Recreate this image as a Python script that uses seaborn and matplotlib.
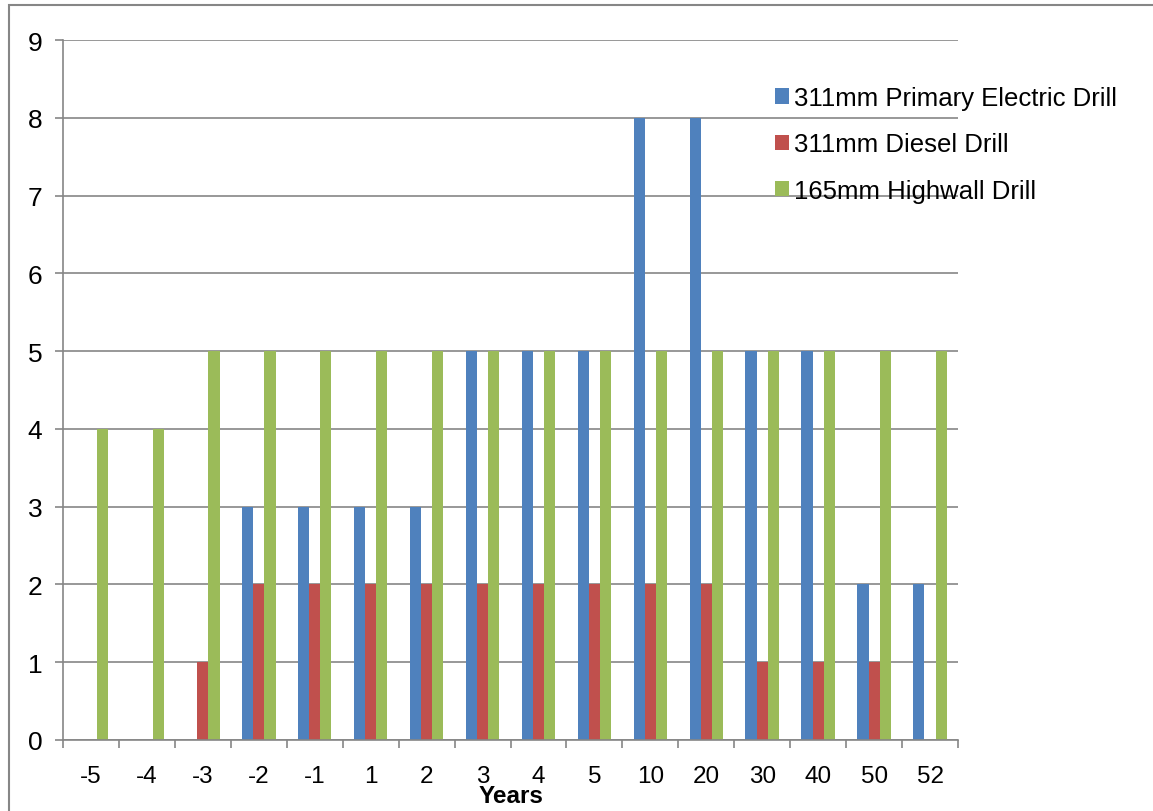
import numpy as np
import pandas as pd
import matplotlib
matplotlib.use('Agg')
import matplotlib.pyplot as plt
import seaborn as sns
from matplotlib.patches import Rectangle

sns.set_style('white')
plt.rcParams['font.family'] = ['Liberation Sans', 'DejaVu Sans']
plt.rcParams['text.color'] = 'black'
plt.rcParams['xtick.labelcolor'] = 'black'
plt.rcParams['ytick.labelcolor'] = 'black'
plt.rcParams['axes.labelcolor'] = 'black'

years = ['-5', '-4', '-3', '-2', '-1', '1', '2', '3', '4', '5', '10', '20', '30', '40', '50', '52']
electric = [0, 0, 0, 3, 3, 3, 3, 5, 5, 5, 8, 8, 5, 5, 2, 2]
diesel = [0, 0, 1, 2, 2, 2, 2, 2, 2, 2, 2, 2, 1, 1, 1, 0]
highwall = [4, 4, 5, 5, 5, 5, 5, 5, 5, 5, 5, 5, 5, 5, 5, 5]
series_names = ['311mm Primary Electric Drill', '311mm Diesel Drill', '165mm Highwall Drill']
colors = ['#4f81bd', '#c0504d', '#9bbb59']

df = pd.DataFrame({'year': years * 3,
                   'value': electric + diesel + highwall,
                   'series': np.repeat(series_names, len(years))})

fig = plt.figure(figsize=(11.53, 8.12), dpi=100)
ax = fig.add_axes([63 / 1153, 1 - 741 / 812, (958 - 63) / 1153, 700 / 812])

sns.barplot(data=df, x='year', y='value', hue='series', order=years,
            hue_order=series_names, palette=colors, width=0.6, gap=0,
            saturation=1, linewidth=0, ax=ax)

grey = '#868686'
ax.set_ylim(0, 9)
ax.set_xlim(-0.5, len(years) - 0.5)
ax.set_yticks(range(10))
ax.yaxis.grid(True, color=grey, linewidth=1.2)
ax.set_axisbelow(True)
for s in ['top', 'right']:
    ax.spines[s].set_visible(False)
for s in ['left', 'bottom']:
    ax.spines[s].set_color(grey)
    ax.spines[s].set_linewidth(1.2)

ax.set_xticks(np.arange(len(years) + 1) - 0.5, minor=True)
ax.tick_params(axis='x', which='minor', length=6, color=grey, width=1.2, direction='out')
ax.tick_params(axis='x', which='major', length=0, labelsize=17.5, pad=18, labelcolor='black')
ax.tick_params(axis='y', length=6, color=grey, width=1.2, labelsize=19, pad=9, labelcolor='black')
ax.tick_params(left=True, bottom=True, which='both')

ax.set_ylabel('')
ax.set_xlabel('Years', fontsize=17.5, fontweight='bold', color='black')
ax.xaxis.set_label_coords((511 - 63) / 895, (741 - 797) / 700)
ax.xaxis.label.set_va('center')

leg = ax.legend(loc='upper left', bbox_to_anchor=(775 / 1153, 1 - 87 / 812),
                bbox_transform=fig.transFigure, frameon=False, fontsize=18.5,
                handlelength=0.55, handleheight=0.55, handletextpad=0.2,
                labelspacing=0.87, borderaxespad=0, borderpad=0)
for t in leg.get_texts():
    t.set_color('black')

fig.patches.append(Rectangle((9 / 1153, -0.1), 2, 1.1 - 6 / 812, transform=fig.transFigure,
                             fill=False, edgecolor=grey, linewidth=1.5))

fig.savefig('out.png', dpi=100)
